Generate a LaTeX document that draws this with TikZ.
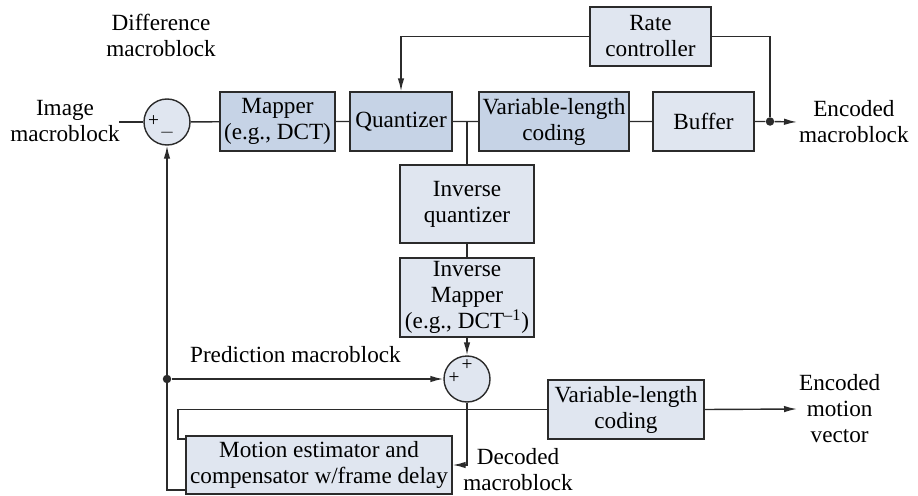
\documentclass[tikz,border=0pt]{standalone}
\usepackage{fontspec}
\setmainfont{LiberationSerif}[Extension=.ttf,UprightFont=*-Regular,BoldFont=*-Bold,ItalicFont=*-Italic,BoldItalicFont=*-BoldItalic]
\usetikzlibrary{arrows.meta,calc,positioning}
\definecolor{ink}{HTML}{2B2B2B}
\definecolor{steel}{HTML}{C6D3E6}
\definecolor{mist}{HTML}{E0E6F0}
\tikzset{darkbox/.style={draw=ink,fill=steel,line width=.8pt,align=center,inner sep=2pt,minimum height=11.8mm}, lightbox/.style={draw=ink,fill=mist,line width=.8pt,align=center,inner sep=2pt,minimum height=11.8mm},sumnode/.style={circle,draw=ink,fill=mist,line width=.8pt,minimum size=9.2mm,inner sep=0pt},sign/.style={font=\fontsize{11}{11}\selectfont,inner sep=0pt},flow/.style={draw=ink,line width=.8pt},arrowflow/.style={flow,-{Latex[length=2.6mm,width=1.3mm]}},junction/.style={circle,fill=ink,inner sep=0pt,minimum size=1.7mm},note/.style={align=center,inner sep=1pt}}

\begin{document}
\begin{tikzpicture}[font=\fontsize{13.2}{14.8}\selectfont]
\useasboundingbox (0,0) rectangle (18.36,-9.9);
% forward path
\node[sumnode] (s1) at (3.34,-2.44) {};
\node[sign] at ($(s1)+(-0.27,0.02)$) {+};
\node[sign] at ($(s1)+(0,-0.22)$) {$-$};
\node[darkbox,minimum width=23mm] (map) at (5.55,-2.43) {Mapper\\(e.g., DCT)};
\node[darkbox,minimum width=20.4mm] (quant) at (8.02,-2.43) {Quantizer};
\node[darkbox,minimum width=28.8mm] (vlc) at (11.08,-2.43) {Variable-length\\coding};
\node[lightbox,minimum width=20.2mm] (buf) at (14.07,-2.43) {Buffer};
\node[lightbox,minimum width=24.2mm] (rate) at (13.01,-0.73) {Rate\\controller};
\node[junction] (d1) at (15.4,-2.43) {};
\coordinate (j1) at (9.34,-2.43);
% feedback path
\node[lightbox,minimum width=26.8mm,minimum height=15.6mm] (iq) at (9.34,-4.08) {Inverse\\quantizer};
\node[lightbox,minimum width=26.8mm,minimum height=15.8mm] (im) at (9.34,-5.95) {Inverse\\Mapper\\(e.g., DCT\textsuperscript{–1})};
\node[sumnode] (s2) at (9.34,-7.58) {};
\node[sign] at ($(s2)+(0,0.28)$) {+};
\node[sign] at ($(s2)+(-0.26,0.02)$) {+};
\node[junction] (d2) at (3.34,-7.58) {};
\node[lightbox,minimum width=53.2mm,minimum height=11.6mm] (me) at (6.38,-9.3) {Motion estimator and\\compensator w/frame delay};
\node[lightbox,minimum width=31.2mm] (vlc2) at (12.52,-8.19) {Variable-length\\coding};
\coordinate (c1) at (3.72,-9.8);
\coordinate (c2) at (3.72,-8.78);
% labels
\node[note] (img) at (1.3,-2.42) {Image\\macroblock};
\node[note] at (3.22,-0.7) {Difference\\macroblock};
\node[note,anchor=west] (out) at (15.94,-2.44) {Encoded\\macroblock};
\node[note,anchor=west] at (3.76,-7.1) {Prediction macroblock};
\node[note] at (10.36,-9.4) {Decoded\\macroblock};
\node[note,anchor=west] (out2) at (15.94,-8.18) {Encoded\\motion\\vector};
% connectors
\draw[flow] (2.38,-2.44) -- (s1.west);
\draw[flow] (s1) -- (map) -- (quant) -- (vlc) -- (buf) -- (d1);
\draw[arrowflow] (d1) -- (out.west);
\draw[arrowflow] (rate.west) -| (quant.north);
\draw[flow] (rate.east) -| (d1);
\draw[flow] (j1) -- (iq.north);
\draw[flow] (iq) -- (im);
\draw[arrowflow] (im) -- (s2);
\draw[arrowflow] (d2) -- (s2.west);
\draw[arrowflow] (s2.south) |- (me.east);
\draw[arrowflow] (c1) -| (s1.south);
\draw[flow] (c2) -- ++(-0.16,0) |- (vlc2.west);
\draw[arrowflow] (vlc2.east) -- (out2.west);
\end{tikzpicture}
\end{document}
